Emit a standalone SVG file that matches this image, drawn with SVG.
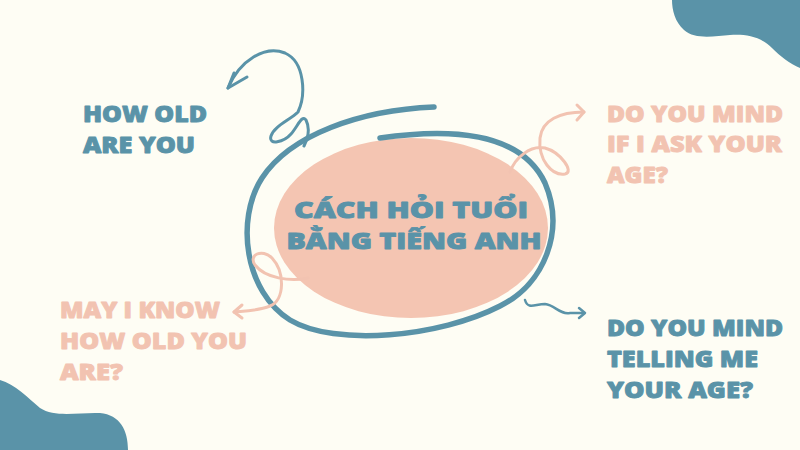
<svg xmlns="http://www.w3.org/2000/svg" width="800" height="450" viewBox="0 0 800 450">
<style>
.t{font-family:"Open Sans","Liberation Sans",sans-serif;font-weight:800;font-size:22px;stroke-width:0.9px;stroke-linejoin:round}
.teal{fill:#5A93A8;stroke:#5A93A8}
.pink{fill:#F2C3B1;stroke:#F2C3B1}
.title{font-family:"Open Sans","Liberation Sans",sans-serif;font-weight:800;font-size:23px;fill:#5A93A8;stroke:#5A93A8;stroke-width:0.9px;stroke-linejoin:round}
.ls{fill:none;stroke-linecap:round;stroke-linejoin:round}
.lt{stroke:#5A93A8}
.lp{stroke:#F2C3B1}
</style>
<rect width="800" height="450" fill="#FEFDF4"/>
<g id="blob-top-right"><path d="M 672 0 L 800 0 L 800 68 C 790 64 780 56 772 48 C 760 36 745 34 730 35 C 715 36 695 40 684 30 C 675 22 672 10 672 0 Z" fill="#5A93A8"/></g>
<g id="blob-bottom-left"><path d="M 0 380 C 15 384 28 398 40 408 C 55 418 80 412 100 413 C 120 415 128 430 128 450 L 0 450 Z" fill="#5A93A8"/></g>
<g id="center">
<ellipse cx="411" cy="228" rx="137" ry="90" fill="#F4C5B2"/>
<path class="ls lt" stroke-width="5.5" stroke-linecap="butt" d="M 434 107 C 360 110 290 135 262 178 C 235 220 245 292 290 320 C 335 347 440 337 500 306 C 545 284 565 230 545 183 C 525 140 470 125 380 138"/>
<text class="title" x="411" y="218" text-anchor="middle" textLength="234" lengthAdjust="spacingAndGlyphs">CÁCH HỎI TUỔI</text>
<text class="title" x="414" y="249" text-anchor="middle" textLength="255" lengthAdjust="spacingAndGlyphs">BẰNG TIẾNG ANH</text>
</g>
<g id="connectors">
<path class="ls lt" stroke-width="3" d="M 228 88 C 240 60 265 45 285 53 C 305 62 306 95 298 112 C 290 120 274 126 271 136 C 268 146 284 142 291 134 C 298 126 302 114 306 120 C 310 128 308 138 304 146"/>
<path class="ls lt" stroke-width="3" d="M 234 73 L 228 88 L 247 77"/>
<path class="ls lp" stroke-width="3" d="M 510 172 C 515 158 530 145 545 148 C 560 152 575 172 565 174 C 552 176 538 160 540 138 C 542 120 560 112 584 112"/>
<path class="ls lp" stroke-width="3" d="M 577 105 L 584 112 L 577 120"/>
<path class="ls lp" stroke-width="3" d="M 308 278 C 290 282 265 278 255 265 C 248 255 262 248 272 258 C 285 272 285 300 270 306 C 258 311 245 311 234 312"/>
<path class="ls lp" stroke-width="3" d="M 242 305 L 234 312 L 242 318"/>
<path class="ls lt" stroke-width="2.5" d="M 525 300 C 528 310 535 304 545 304 C 555 305 560 315 570 313 L 584 313"/>
<path class="ls lt" stroke-width="2.5" d="M 579 308 L 585 313 L 579 318"/>
</g>
<g id="node-how-old">
<text class="t teal" x="83" y="122" textLength="124" lengthAdjust="spacingAndGlyphs">HOW OLD</text>
<text class="t teal" x="83" y="153" textLength="112" lengthAdjust="spacingAndGlyphs">ARE YOU</text>
</g>
<g id="node-may-i-know">
<text class="t pink" x="60" y="318" textLength="160" lengthAdjust="spacingAndGlyphs">MAY I KNOW</text>
<text class="t pink" x="60" y="349" textLength="187" lengthAdjust="spacingAndGlyphs">HOW OLD YOU</text>
<text class="t pink" x="60" y="380" textLength="63" lengthAdjust="spacingAndGlyphs">ARE?</text>
</g>
<g id="node-if-i-ask">
<text class="t pink" x="607" y="122" textLength="176" lengthAdjust="spacingAndGlyphs">DO YOU MIND</text>
<text class="t pink" x="607" y="152" textLength="175" lengthAdjust="spacingAndGlyphs">IF I ASK YOUR</text>
<text class="t pink" x="607" y="183" textLength="61" lengthAdjust="spacingAndGlyphs">AGE?</text>
</g>
<g id="node-telling-me">
<text class="t teal" x="607" y="336" textLength="176" lengthAdjust="spacingAndGlyphs">DO YOU MIND</text>
<text class="t teal" x="607" y="367" textLength="151" lengthAdjust="spacingAndGlyphs">TELLING ME</text>
<text class="t teal" x="607" y="398" textLength="146" lengthAdjust="spacingAndGlyphs">YOUR AGE?</text>
</g>
</svg>
